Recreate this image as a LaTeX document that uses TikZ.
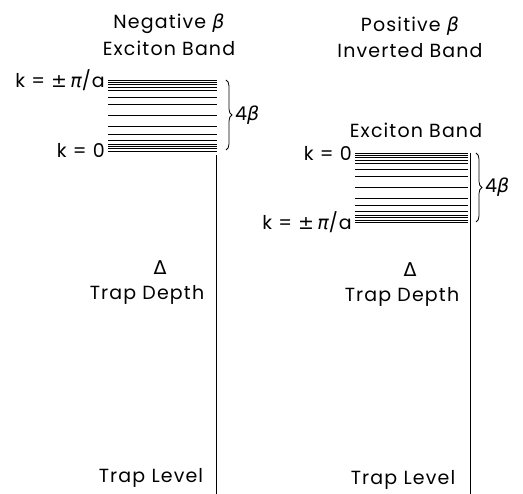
\documentclass[tikz,border=0pt]{standalone}
\usepackage{fontspec}
\setmainfont{Poppins}[LetterSpace=6.0]
\newfontfamily\grk{DejaVu Sans}
\newcommand{\bet}{{\grk\itshape β}}
\newcommand{\pii}{{\grk\itshape π}}
\newcommand{\pmm}{{\grk ±}}
\newcommand{\dlt}{{\grk Δ}}
\usetikzlibrary{decorations.pathreplacing,positioning}
\newcommand{\levels}{0,.03,.065,.10,.15,.24,.34,.50,.66,.76,.85,.90,.935,.97,1}
\tikzset{
  lbl/.style={inner sep=1pt,font=\fontsize{19}{21}\selectfont},
  lev/.style={line width=0.75pt},
  vline/.style={line width=0.8pt},
  brc/.style={decorate,decoration={brace,amplitude=6pt},line width=0.8pt},
}
\begin{document}
\begin{tikzpicture}[x=1pt,y=-1pt]
  \useasboundingbox (0,0) rectangle (523,494);

  % negative beta: exciton band
  \node[lbl] (negt) at (169,24) {Negative \bet};
  \node[lbl] (negb) at (169,48) {Exciton Band};
  \foreach \f in \levels
    \draw[lev] (108,80+71*\f) -- (217,80+71*\f);
  \node[lbl, anchor=east] (kpiL) at (106,80) {k = \pmm\,\pii/a};
  \node[lbl, anchor=east] (kzeroL) at (106,150) {k = 0};
  \coordinate (btopL) at (226,80);
  \coordinate (bbotL) at (226,150);
  \draw[brc] (btopL) -- (bbotL);
  \node[lbl, anchor=west] (wL) at (234,115) {4\bet};
  \coordinate (lhead) at (216,155);
  \coordinate (lfoot) at (216,494);
  \draw[vline] (lhead) -- (lfoot);
  \node[lbl] (dL) at (160,268) {\dlt};
  \node[lbl] (depL) at (147,295) {Trap Depth};
  \node[lbl] (levL) at (151,478) {Trap Level};

  % positive beta: inverted band
  \node[lbl] (post) at (410,26) {Positive \bet};
  \node[lbl] (posb) at (410,51) {Inverted Band};
  \node[lbl] (excR) at (416,130) {Exciton Band};
  \foreach \f in \levels
    \draw[lev] (355,153+69*\f) -- (468,153+69*\f);
  \node[lbl, anchor=east] (kzeroR) at (353,153) {k = 0};
  \node[lbl, anchor=east] (kpiR) at (353,222) {k = \pmm\,\pii/a};
  \coordinate (btopR) at (476,153);
  \coordinate (bbotR) at (476,222);
  \draw[brc] (btopR) -- (bbotR);
  \node[lbl, anchor=west] (wR) at (484,187) {4\bet};
  \coordinate (rhead) at (470,153);
  \coordinate (rfoot) at (470,494);
  \draw[vline] (rhead) -- (rfoot);
  \node[lbl] (dR) at (410,270) {\dlt};
  \node[lbl] (depR) at (402,297) {Trap Depth};
  \node[lbl] (levR) at (403,480) {Trap Level};
\end{tikzpicture}
\end{document}
